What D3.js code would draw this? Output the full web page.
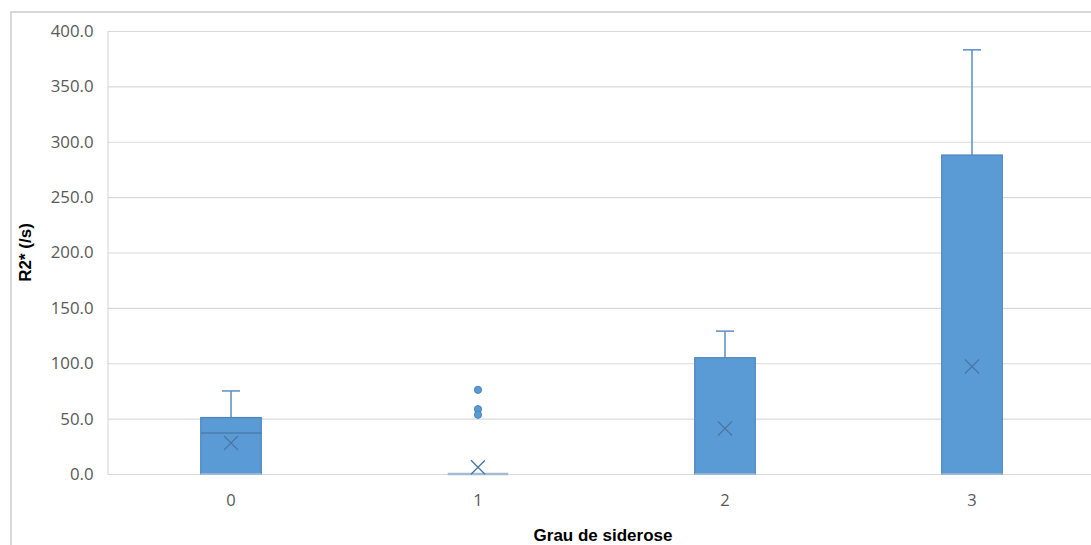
<!DOCTYPE html>
<html>
<head>
<meta charset="utf-8">
<script src="https://cdn.jsdelivr.net/npm/d3@7"></script>
<style>
  html, body { margin: 0; padding: 0; background: #fff; }
  svg { display: block; }
</style>
</head>
<body>
<svg id="chart" width="1091" height="545"></svg>
<script>
// Box-plot summaries of R2* by siderosis grade
const categories = ["0", "1", "2", "3"];
const whiskerLow  = [0, 0, 0, 0];
const quartile1   = [0, 0, 0, 0];
const medians     = [37, 0, 0, 0];
const quartile3   = [51, 0, 105, 288];
const whiskerHigh = [75, 0, 129, 383];
const means       = [28, 6, 41, 97];
const outliers    = [[], [76, 58.5, 53.5], [], []];
const yTicks      = [0, 50, 100, 150, 200, 250, 300, 350, 400];

const svg = d3.select("#chart");
const plot = { left: 107.5, right: 1095.5, top: 31, bottom: 474 };

const x = d3.scaleBand().domain(categories).range([plot.left, plot.right]).padding(0);
const y = d3.scaleLinear().domain([0, 400]).range([plot.bottom, plot.top]);
const boxW = x.bandwidth() * 0.245;
const capW = 18;

const fill = "#5b9bd5", edge = "#4a84bd", whiskerCol = "#5a8ec4", meanCol = "#4a77a8";
const tickFont = "'Open Sans', 'DejaVu Sans', sans-serif";
const titleFont = "'Liberation Sans', Arial, sans-serif";

// outer chart frame
svg.append("rect")
  .attr("x", 11).attr("y", 12).attr("width", 1200).attr("height", 700)
  .attr("fill", "none").attr("stroke", "#d9d9d9").attr("stroke-width", 2);

// horizontal gridlines and value labels
const yAxis = d3.axisLeft(y).tickValues(yTicks).tickFormat(d3.format(".1f")).tickSize(0).tickPadding(14);
const gy = svg.append("g").attr("transform", `translate(${plot.left},0)`).call(yAxis);
gy.select(".domain").attr("stroke", "#d9d9d9").attr("stroke-width", 1.2);
gy.selectAll(".tick text")
  .attr("fill", "#595959").attr("font-family", tickFont).attr("font-size", 16.8);
gy.selectAll(".tick").append("line")
  .attr("x1", 0).attr("x2", plot.right - plot.left)
  .attr("stroke", "#d9d9d9").attr("stroke-width", 1.2);

// category axis labels
const xAxis = d3.axisBottom(x).tickSize(0).tickPadding(20);
const gx = svg.append("g").attr("transform", `translate(0,${plot.bottom})`).call(xAxis);
gx.select(".domain").remove();
gx.selectAll(".tick text")
  .attr("fill", "#595959").attr("font-family", tickFont).attr("font-size", 16.5);

const cx = i => x(categories[i]) + x.bandwidth() / 2;
const groups = svg.append("g").selectAll("g").data(categories).join("g");

groups.each(function (c, i) {
  const g = d3.select(this);
  const mid = cx(i);
  // whiskers
  if (whiskerHigh[i] > quartile3[i]) {
    g.append("line").attr("x1", mid).attr("x2", mid)
      .attr("y1", y(quartile3[i])).attr("y2", y(whiskerHigh[i]))
      .attr("stroke", whiskerCol).attr("stroke-width", 1.5);
    g.append("line").attr("x1", mid - capW / 2).attr("x2", mid + capW / 2)
      .attr("y1", y(whiskerHigh[i])).attr("y2", y(whiskerHigh[i]))
      .attr("stroke", whiskerCol).attr("stroke-width", 1.5);
  }
  if (whiskerLow[i] < quartile1[i]) {
    g.append("line").attr("x1", mid).attr("x2", mid)
      .attr("y1", y(quartile1[i])).attr("y2", y(whiskerLow[i]))
      .attr("stroke", whiskerCol).attr("stroke-width", 1.5);
  }
  // box
  const h = y(quartile1[i]) - y(quartile3[i]);
  if (h > 0) {
    g.append("rect")
      .attr("x", mid - boxW / 2).attr("y", y(quartile3[i]))
      .attr("width", boxW).attr("height", h)
      .attr("fill", fill).attr("stroke", edge).attr("stroke-width", 1.2);
    g.append("line")
      .attr("x1", mid - boxW / 2).attr("x2", mid + boxW / 2)
      .attr("y1", y(quartile1[i])).attr("y2", y(quartile1[i]))
      .attr("stroke", "#a9c1dc").attr("stroke-width", 1.5);
  } else {
    g.append("line")
      .attr("x1", mid - boxW / 2).attr("x2", mid + boxW / 2)
      .attr("y1", y(quartile1[i])).attr("y2", y(quartile1[i]))
      .attr("stroke", "#a3bad4").attr("stroke-width", 2.5);
  }
  // median
  if (medians[i] > quartile1[i] && medians[i] < quartile3[i]) {
    g.append("line")
      .attr("x1", mid - boxW / 2).attr("x2", mid + boxW / 2)
      .attr("y1", y(medians[i])).attr("y2", y(medians[i]))
      .attr("stroke", "#41719c").attr("stroke-width", 1.2);
  }
  // mean marker
  const my = y(means[i]), s = 7;
  g.append("path")
    .attr("d", `M${mid - s},${my - s}L${mid + s},${my + s}M${mid - s},${my + s}L${mid + s},${my - s}`)
    .attr("stroke", meanCol).attr("stroke-width", 1.4).attr("fill", "none");
  // outliers
  g.selectAll("circle").data(outliers[i]).join("circle")
    .attr("cx", mid).attr("cy", d => y(d)).attr("r", 3.6)
    .attr("fill", fill).attr("stroke", "#4a84bd").attr("stroke-width", 1);
});

// axis titles
svg.append("text")
  .attr("x", 603).attr("y", 541).attr("text-anchor", "middle")
  .attr("font-family", titleFont).attr("font-weight", "bold").attr("font-size", 17)
  .attr("fill", "#000").text("Grau de siderose");
svg.append("text")
  .attr("transform", `translate(31,${(plot.top + plot.bottom) / 2}) rotate(-90)`)
  .attr("text-anchor", "middle")
  .attr("font-family", titleFont).attr("font-weight", "bold").attr("font-size", 17)
  .attr("fill", "#000").text("R2* (/s)");
</script>
</body>
</html>
